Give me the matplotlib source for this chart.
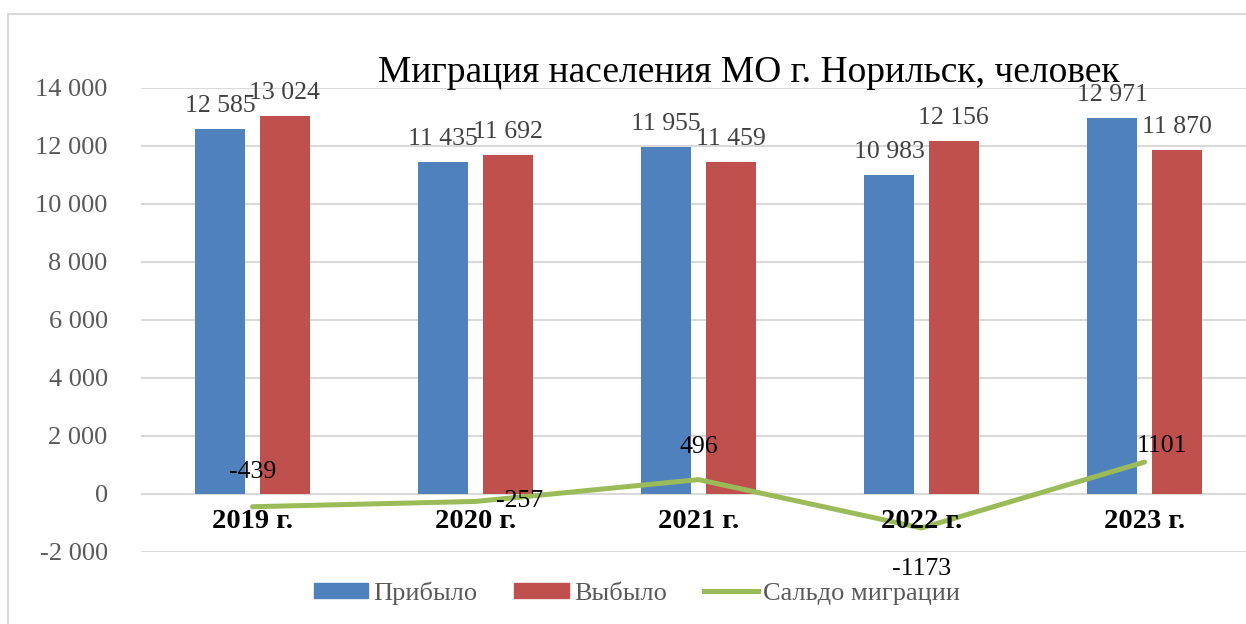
import numpy as np
import matplotlib.pyplot as plt
from matplotlib.patches import Rectangle, Patch
from matplotlib.lines import Line2D

plt.rcParams['font.family'] = ['Liberation Serif', 'DejaVu Serif']

# данные
years = ['2019 г.', '2020 г.', '2021 г.', '2022 г.', '2023 г.']
arrived = [12585, 11435, 11955, 10983, 12971]
departed = [13024, 11692, 11459, 12156, 11870]
balance = [-439, -257, 496, -1173, 1101]
yticks = [-2000, 0, 2000, 4000, 6000, 8000, 10000, 12000, 14000]

c_blue, c_red, c_green = '#4F81BD', '#C0504D', '#9BBB59'
c_grid, c_text = '#D9D9D9', '#595959'


def fmt(v):
    return '{:,}'.format(v).replace(',', ' ')


fig = plt.figure(figsize=(12.46, 6.24), dpi=100)
ax = fig.add_axes([141 / 1246, 72 / 624, 1105 / 1246, 464 / 624])

# рамка диаграммы
fig.patches.append(Rectangle((8 / 1246, -0.1), 1.2, (624 - 14) / 624 + 0.1,
                             transform=fig.transFigure, fill=False,
                             edgecolor='#D9D9D9', linewidth=1.5))

x = np.arange(len(years))
w = 0.225
off = 0.145
b1 = ax.bar(x - off, arrived, w, color=c_blue, zorder=2)
b2 = ax.bar(x + off, departed, w, color=c_red, zorder=2)
ax.plot(x, balance, color=c_green, linewidth=3.6, solid_capstyle='round', zorder=3)

for bars, vals in ((b1, arrived), (b2, departed)):
    for r, v in zip(bars, vals):
        ax.annotate(fmt(v), (r.get_x() + r.get_width() / 2, v),
                    xytext=(0, 12), textcoords='offset pixels',
                    ha='center', va='bottom', fontsize=18.5, color='#404040')

# подписи сальдо
lab_off = [(0, 35), (44, 0), (0, 33), (0, -41), (17, 16)]
for xi, v, (dx, dy) in zip(x, balance, lab_off):
    ax.annotate(str(v), (xi, v), xytext=(dx, dy), textcoords='offset pixels',
                ha='center', va='center', fontsize=18.5, color='black', zorder=4)

# подписи категорий
for xi, y in zip(x, years):
    ax.annotate(y, (xi, 0), xytext=(0, -28), textcoords='offset pixels',
                ha='center', va='center', fontsize=20.5, fontweight='bold', color='black')

ax.set_xlim(-0.5, 4.455)
ax.set_ylim(-2000, 14000)
ax.set_yticks(yticks)
ax.set_yticklabels([fmt(t) for t in yticks])
ax.set_xticks([])
ax.tick_params(axis='y', length=0, pad=24, labelsize=19, labelcolor=c_text)
ax.grid(axis='y', color=c_grid, linewidth=1.5, zorder=0)
ax.set_axisbelow(True)
for s in ax.spines.values():
    s.set_visible(False)

fig.text(749 / 1246, 1 - 73 / 624, 'Миграция населения МО г. Норильск, человек',
         ha='center', va='center', fontsize=27, color='black')

handles = [Patch(color=c_blue), Patch(color=c_red),
           Line2D([], [], color=c_green, linewidth=3.6)]
fig.legend(handles, ['Прибыло', 'Выбыло', 'Сальдо миграции'],
           loc='center', bbox_to_anchor=(637 / 1246, 1 - 593 / 624), ncol=3,
           frameon=False, fontsize=19, labelcolor=c_text,
           handlelength=2.05, handleheight=0.5, handletextpad=0.2, columnspacing=1.4)

fig.savefig('out.png', dpi=100)
